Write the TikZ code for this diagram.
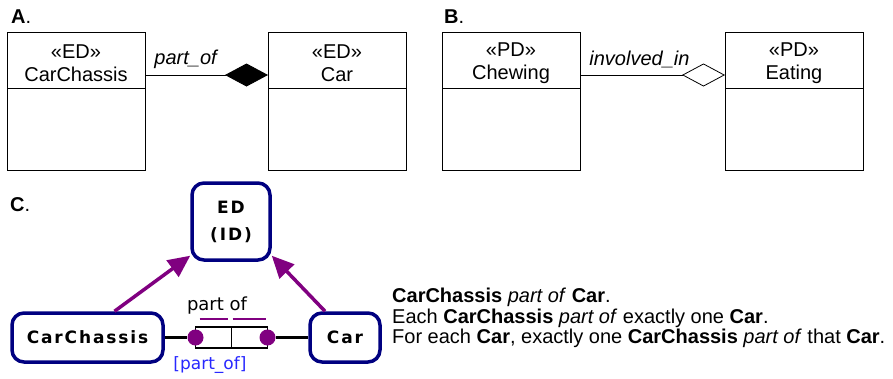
\documentclass[tikz,border=0pt]{standalone}
\usepackage{fontspec}
\setmainfont{Liberation Sans}
\newfontfamily\verdfont{DejaVu Sans}
\newfontfamily\verdbold{DejaVu Sans}[LetterSpace=11]
\usetikzlibrary{arrows.meta}
\usetikzlibrary{positioning}

\definecolor{ormnavy}{RGB}{0,0,128}
\definecolor{ormpurple}{RGB}{128,0,128}
\definecolor{ormblue}{RGB}{40,40,255}

\tikzset{
  umlhead/.style={draw, line width=0.8pt, outer sep=0pt, inner sep=0pt,
    minimum width=138pt, minimum height=56pt},
  umlname/.style={align=center, inner sep=0pt, font=\fontsize{20}{23}\selectfont},
  umlbody/.style={draw, line width=0.8pt, outer sep=0pt, inner sep=0pt,
    minimum width=138pt, minimum height=82pt},
  assoc/.style={line width=0.8pt},
  panel/.style={font=\bfseries\fontsize{20}{20}\selectfont, anchor=west, inner sep=0pt},
  ormtype/.style={draw=ormnavy, line width=3.5pt, rounded corners=12pt,
    minimum height=49pt, align=center, inner sep=0pt,
    font=\verdbold\bfseries\fontsize{17}{27}\selectfont},
  subtype/.style={draw=ormpurple, line width=3.5pt,
    -{Triangle[length=22pt,width=20pt]}},
  rolebox/.style={draw, line width=1.5pt, outer sep=0pt, inner sep=0pt,
    minimum width=36pt, minimum height=21pt},
  roledot/.style={circle, fill=ormpurple, minimum size=16pt, inner sep=0pt},
  verbal/.style={font=\fontsize{20}{20.5}\selectfont, align=left, anchor=west, inner sep=0pt}
}

\begin{document}
\begin{tikzpicture}[x=1pt, y=-1pt]
    \useasboundingbox (0, 0) rectangle (893, 378);

    % A. composition
    \node [panel] (la) at (11, 17) {A\mdseries.};
    \node [umlhead] (chassis) at (76, 60) {};
    \node [umlname] (chassist) at ([yshift=-3pt]chassis.center) {«ED»\\CarChassis};
    \node [umlbody, below=0pt of chassis] (chassisb) {};
    \node [umlhead] (car) at (337, 60) {};
    \node [umlname] (cart) at ([yshift=-3pt]car.center) {«ED»\\Car};
    \node [umlbody, below=0pt of car] (carb) {};
    \draw [assoc, -{Diamond[length=43pt, width=23pt]}] (chassis.east |- 0, 75) -- (car.west |- 0, 75)
        node [pos=0.33, above=3pt, font=\itshape\fontsize{20}{20}\selectfont] {part\_of};

    % B. aggregation
    \node [panel] (lb) at (444, 17) {B\mdseries.};
    \node [umlhead] (chewing) at (511, 60) {};
    \node [umlname] (chewingt) at ([yshift=-3pt]chewing.center) {«PD»\\Chewing};
    \node [umlbody, below=0pt of chewing] (chewingb) {};
    \node [umlhead] (eating) at (794, 60) {};
    \node [umlname] (eatingt) at ([yshift=-3pt]eating.center) {«PD»\\Eating};
    \node [umlbody, below=0pt of eating] (eatingb) {};
    \draw [assoc, -{Diamond[open, length=43pt, width=23pt]}] (chewing.east |- 0, 75) -- (eating.west |- 0, 75)
        node [pos=0.41, above=3pt, font=\itshape\fontsize{20}{20}\selectfont] {involved\_in};

    % C. ORM
    \node [panel] (lc) at (10, 205) {C\mdseries.};
    \node [ormtype, minimum width=78pt, minimum height=77pt] (ed) at (231, 221.5) {ED\\(ID)};
    \node [ormtype, minimum width=151pt] (cc) at (87.5, 337.5) {CarChassis};
    \node [ormtype, minimum width=70pt] (cr) at (345, 337.5) {Car};

    \draw [subtype] ([xshift=27pt]cc.north) -- (ed.220);
    \draw [subtype] ([xshift=-20pt]cr.north) -- (ed.320);

    \node [rolebox] (rl) at (213.5, 337.5) {};
    \node [rolebox, right=0pt of rl] (rr) {};
    \node [roledot] (dl) at (rl.west) {};
    \node [roledot] (dr) at (rr.east) {};
    \draw [line width=3.5pt] (cc) -- (dl);
    \draw [line width=3.5pt] (dr) -- (cr);
    \draw [ormpurple, line width=2pt] ([xshift=4pt, yshift=8pt]rl.north west) -- ([xshift=-4pt, yshift=8pt]rl.north east);
    \draw [ormpurple, line width=2pt] ([xshift=1pt, yshift=8pt]rr.north west) -- ([xshift=-2pt, yshift=8pt]rr.north east);
    \node [font=\verdfont\fontsize{18}{18}\selectfont] (rname) at (217, 306) {part of};
    \node [font=\verdfont\fontsize{17}{17}\selectfont, text=ormblue] (rid) at (210, 365) {[part\_of]};

    \node [verbal] (reading) at (392, 318) {\textbf{CarChassis} \textit{part of} \textbf{Car}.\\
        Each \textbf{CarChassis} \textit{part of} exactly one \textbf{Car}.\\
        For each \textbf{Car}, exactly one \textbf{CarChassis} \textit{part of} that \textbf{Car}.};
\end{tikzpicture}
\end{document}
